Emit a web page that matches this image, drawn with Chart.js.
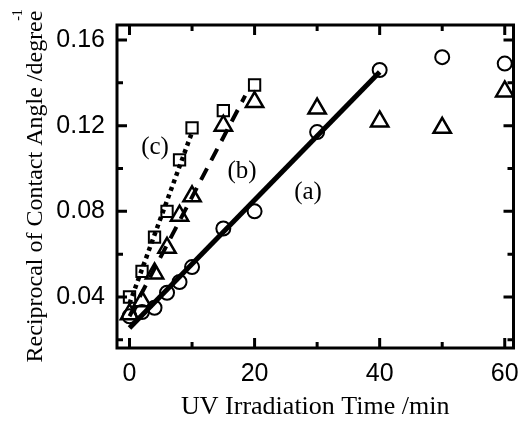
<!DOCTYPE html>
<html>
<head>
<meta charset="utf-8">
<script src="https://cdn.jsdelivr.net/npm/chart.js@4/dist/chart.umd.min.js"></script>
<style>
html, body { margin: 0; padding: 0; background: #fff; }
#wrap { width: 526px; height: 423px; }
</style>
</head>
<body>
<div id="wrap"><canvas id="chart"></canvas></div>
<script>
// (a) circles
var timeA = [0, 2, 4, 6, 8, 10, 15, 20, 30, 40, 50, 60]
var recipA = [0.031, 0.033, 0.035, 0.042, 0.047, 0.054, 0.072, 0.080, 0.117, 0.146, 0.152, 0.149]
// (b) triangles
var timeB = [0, 2, 4, 6, 8, 10, 15, 20, 30, 40, 50, 60]
var recipB = [0.032, 0.038, 0.051, 0.063, 0.078, 0.087, 0.120, 0.131, 0.128, 0.122, 0.119, 0.136]
// (c) squares
var timeC = [0, 2, 4, 6, 8, 10, 15, 20]
var recipC = [0.040, 0.052, 0.068, 0.080, 0.104, 0.119, 0.127, 0.139]

// fitted lines, end points
var fitTimeA = [0, 40]
var fitA = [0.0255, 0.145]
var fitTimeB = [0, 18.5]
var fitB = [0.031, 0.134]
var fitTimeC = [0, 10]
var fitC = [0.037, 0.117]

var xTicks = [0, 20, 40, 60]
var xMinor = [10, 30, 50]
var yTicks = [0.04, 0.08, 0.12, 0.16]
var yMinor = [0.02, 0.06, 0.10, 0.14]

function pts(xs, ys) {
	return xs.map(function (x, i) { return { x: x, y: ys[i] } })
}

var serif = '"Liberation Serif", "Times New Roman", serif'
var sans = '"Liberation Sans", Arial, sans-serif'

var framePlugin = {
	id: 'frame',
	afterDraw: function (chart) {
		var ctx = chart.ctx
		var a = chart.chartArea
		var xs = chart.scales.x, ys = chart.scales.y
		ctx.save()
		ctx.strokeStyle = '#000'
		ctx.lineWidth = 3
		ctx.strokeRect(a.left, a.top, a.right - a.left, a.bottom - a.top)
		function tick(v, len, isX) {
			if (isX) {
				var px = xs.getPixelForValue(v)
				ctx.beginPath()
				ctx.moveTo(px, a.bottom); ctx.lineTo(px, a.bottom - len)
				ctx.moveTo(px, a.top); ctx.lineTo(px, a.top + len)
				ctx.stroke()
			} else {
				var py = ys.getPixelForValue(v)
				ctx.beginPath()
				ctx.moveTo(a.left, py); ctx.lineTo(a.left + len, py)
				ctx.moveTo(a.right, py); ctx.lineTo(a.right - len, py)
				ctx.stroke()
			}
		}
		xTicks.forEach(function (v) { tick(v, 10, true) })
		xMinor.forEach(function (v) { tick(v, 6, true) })
		yTicks.forEach(function (v) { tick(v, 10, false) })
		yMinor.forEach(function (v) { tick(v, 6, false) })

		ctx.fillStyle = '#000'
		ctx.font = '25px ' + serif
		ctx.textAlign = 'center'
		ctx.textBaseline = 'middle'
		ctx.fillText('(a)', 308, 192)
		ctx.fillText('(b)', 242, 171)
		ctx.fillText('(c)', 155, 147)

		// superscript on the y title
		ctx.font = '14px ' + serif
		ctx.translate(18, 15)
		ctx.rotate(-Math.PI / 2)
		ctx.fillText('-1', 0, 0)
		ctx.restore()
	}
}

var ctx = document.getElementById('chart').getContext('2d')
var myChart = new Chart(ctx, {
	type: 'scatter',
	data: {
		datasets: [
			{ type: 'line', data: pts(fitTimeA, fitA), borderColor: '#000', borderWidth: 5, pointRadius: 0, fill: false },
			{ type: 'line', data: pts(fitTimeB, fitB), borderColor: '#000', borderWidth: 4, borderDash: [13, 9], pointRadius: 0, fill: false },
			{ type: 'line', data: pts(fitTimeC, fitC), borderColor: '#000', borderWidth: 4.5, borderDash: [4, 4], pointRadius: 0, fill: false },
			{ data: pts(timeA, recipA), pointStyle: 'circle', pointRadius: 7, borderColor: '#000', borderWidth: 2, backgroundColor: 'rgba(0,0,0,0)' },
			{ data: pts(timeB, recipB), pointStyle: 'triangle', pointRadius: 10, borderColor: '#000', borderWidth: 2.5, backgroundColor: 'rgba(0,0,0,0)' },
			{ data: pts(timeC, recipC), pointStyle: 'rect', pointRadius: 8, borderColor: '#000', borderWidth: 2, backgroundColor: 'rgba(0,0,0,0)' }
		]
	},
	options: {
		responsive: true,
		maintainAspectRatio: false,
		animation: false,
		events: [],
		layout: { padding: { top: 25, right: 6, left: 21, bottom: 0 } },
		plugins: { legend: { display: false }, tooltip: { enabled: false } },
		scales: {
			x: {
				type: 'linear', min: -2, max: 61.4,
				afterBuildTicks: function (s) { s.ticks = xTicks.map(function (v) { return { value: v } }) },
				afterFit: function (s) { s.height = 75 },
				grid: { display: false },
				border: { display: false },
				ticks: { color: '#000', font: { family: sans, size: 25 }, padding: 3, maxRotation: 0 },
				title: { display: true, text: 'UV Irradiation Time /min', color: '#000', font: { family: serif, size: 26 }, padding: { top: 0, bottom: 0 } }
			},
			y: {
				type: 'linear', min: 0.0162, max: 0.167,
				afterBuildTicks: function (s) { s.ticks = yTicks.map(function (v) { return { value: v } }) },
				afterFit: function (s) { s.width = 96 },
				grid: { display: false },
				border: { display: false },
				ticks: { color: '#000', font: { family: sans, size: 25 }, padding: 4, callback: function (v) { return v.toFixed(2) } },
				title: { display: true, text: 'Reciprocal of Contact Angle /degree', color: '#000', font: { family: serif, size: 24 }, padding: 0 }
			}
		}
	},
	plugins: [framePlugin]
})
</script>
</body>
</html>
